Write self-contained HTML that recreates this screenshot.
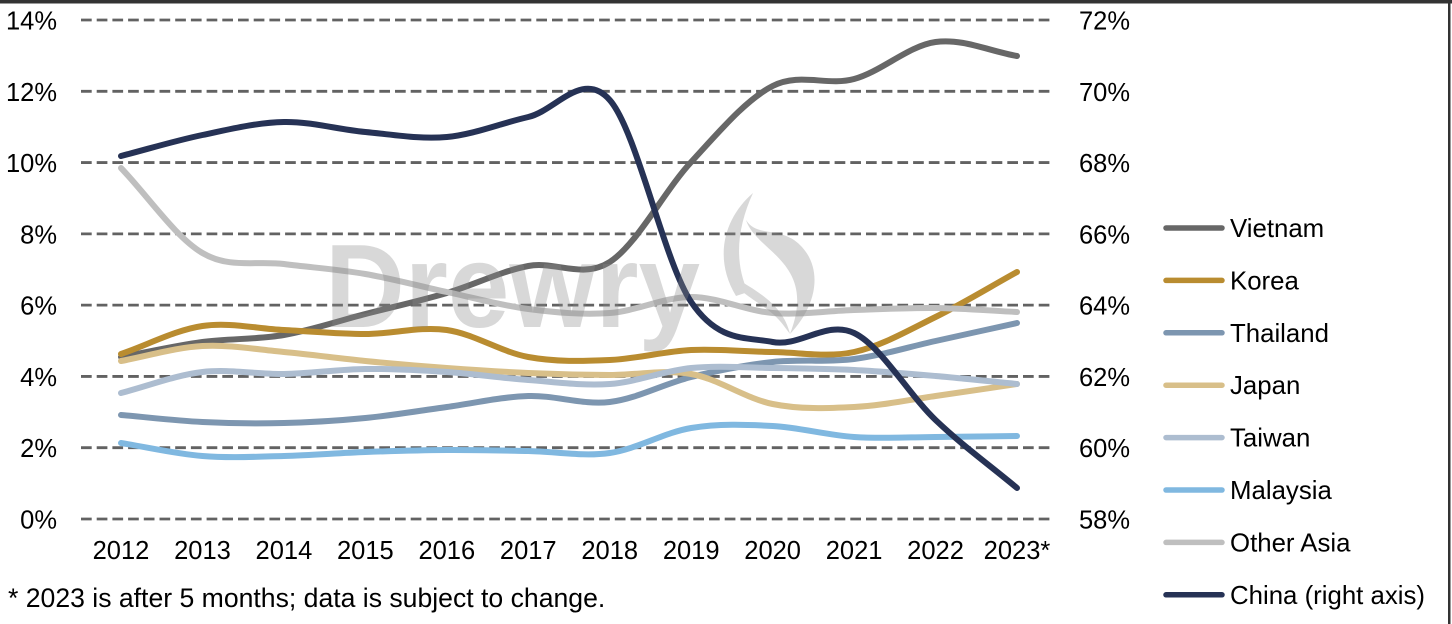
<!DOCTYPE html>
<html><head><meta charset="utf-8"><style>
html,body{margin:0;padding:0;background:#fff;}
svg{display:block;}
text{font-family:"Liberation Sans",Arial,sans-serif;fill:#000;}
</style></head><body>
<svg width="1452" height="624" viewBox="0 0 1452 624" xmlns="http://www.w3.org/2000/svg">
<rect x="0" y="0" width="1452" height="624" fill="#fff"/>
<rect x="0" y="0" width="1452" height="3.5" fill="#333"/>
<rect x="1448" y="0" width="2.5" height="624" fill="#333"/>

<g stroke="#626262" stroke-width="2.8" stroke-dasharray="10.7 5" fill="none">
<line x1="81" y1="20" x2="1053" y2="20"/>
<line x1="81" y1="91.29" x2="1053" y2="91.29"/>
<line x1="81" y1="162.57" x2="1053" y2="162.57"/>
<line x1="81" y1="233.86" x2="1053" y2="233.86"/>
<line x1="81" y1="305.14" x2="1053" y2="305.14"/>
<line x1="81" y1="376.43" x2="1053" y2="376.43"/>
<line x1="81" y1="447.71" x2="1053" y2="447.71"/>
<line x1="81" y1="519" x2="1053" y2="519"/>
</g>

<g font-size="25.5" text-anchor="end">
<text x="57" y="29.5">14%</text>
<text x="57" y="100.8">12%</text>
<text x="57" y="172">10%</text>
<text x="57" y="243.4">8%</text>
<text x="57" y="314.6">6%</text>
<text x="57" y="385.9">4%</text>
<text x="57" y="457.2">2%</text>
<text x="57" y="528.5">0%</text>
</g>
<g font-size="25.5" text-anchor="start">
<text x="1079" y="29.5">72%</text>
<text x="1079" y="100.8">70%</text>
<text x="1079" y="172">68%</text>
<text x="1079" y="243.4">66%</text>
<text x="1079" y="314.6">64%</text>
<text x="1079" y="385.9">62%</text>
<text x="1079" y="457.2">60%</text>
<text x="1079" y="528.5">58%</text>
</g>
<g font-size="25.5" text-anchor="middle">
<text x="121" y="559">2012</text>
<text x="202.45" y="559">2013</text>
<text x="283.91" y="559">2014</text>
<text x="365.36" y="559">2015</text>
<text x="446.82" y="559">2016</text>
<text x="528.27" y="559">2017</text>
<text x="609.73" y="559">2018</text>
<text x="691.18" y="559">2019</text>
<text x="772.64" y="559">2020</text>
<text x="854.09" y="559">2021</text>
<text x="935.55" y="559">2022</text>
<text x="1017" y="559">2023*</text>
</g>

<g fill="none" stroke-width="6" stroke-linecap="round" stroke-linejoin="round">
<!-- Vietnam -->
<path stroke="#676767" d="M121,357 C148.15,352 175.30,345.67 202.45,342 C229.60,338.33 256.76,339.67 283.91,335 C311.06,330.33 338.21,321 365.36,314 C392.51,307 419.67,301 446.82,293 C473.97,285 501.12,271.17 528.27,266 C555.42,260.83 582.58,279.33 609.73,262 C636.88,244.67 664.03,191.33 691.18,162 C718.33,132.67 745.49,99.83 772.64,86 C799.79,72.17 826.94,86.33 854.09,79 C881.24,71.67 908.40,45.83 935.55,42 C962.70,38.17 989.85,51.33 1017,56"/>
<!-- Korea -->
<path stroke="#b98c30" d="M121,354 C148.15,344.67 175.30,330 202.45,326 C229.60,322 256.76,328.67 283.91,330 C311.06,331.33 338.21,334 365.36,334 C392.51,334 419.67,326.17 446.82,330 C473.97,333.83 501.12,352 528.27,357 C555.42,362 582.58,361.17 609.73,360 C636.88,358.83 664.03,351.33 691.18,350 C718.33,348.67 745.49,351.67 772.64,352 C799.79,352.33 826.94,357.83 854.09,352 C881.24,346.17 908.40,330.33 935.55,317 C962.70,303.67 989.85,287 1017,272"/>
<!-- Thailand -->
<path stroke="#7d96b0" d="M121,415 C148.15,417.33 175.30,420.67 202.45,422 C229.60,423.33 256.76,423.67 283.91,423 C311.06,422.33 338.21,420.67 365.36,418 C392.51,415.33 419.67,410.67 446.82,407 C473.97,403.33 501.12,396.83 528.27,396 C555.42,395.17 582.58,405.17 609.73,402 C636.88,398.83 664.03,383.67 691.18,377 C718.33,370.33 745.49,365 772.64,362 C799.79,359 826.94,362.5 854.09,359 C881.24,355.5 908.40,347 935.55,341 C962.70,335 989.85,329 1017,323"/>
<!-- Japan -->
<path stroke="#d8bf89" d="M121,361 C148.15,356 175.30,347.5 202.45,346 C229.60,344.5 256.76,349.5 283.91,352 C311.06,354.5 338.21,358.33 365.36,361 C392.51,363.67 419.67,366 446.82,368 C473.97,370 501.12,371.83 528.27,373 C555.42,374.17 582.58,374.83 609.73,375 C636.88,375.17 664.03,369.17 691.18,374 C718.33,378.83 745.49,398.5 772.64,404 C799.79,409.5 826.94,408.33 854.09,407 C881.24,405.67 908.40,399.83 935.55,396 C962.70,392.17 989.85,388 1017,384"/>
<!-- Taiwan -->
<path stroke="#adbdd0" d="M121,393 C148.15,386 175.30,375.17 202.45,372 C229.60,368.83 256.76,374.5 283.91,374 C311.06,373.5 338.21,369.33 365.36,369 C392.51,368.67 419.67,370.17 446.82,372 C473.97,373.83 501.12,378 528.27,380 C555.42,382 582.58,386 609.73,384 C636.88,382 664.03,370.67 691.18,368 C718.33,365.33 745.49,367.67 772.64,368 C799.79,368.33 826.94,368.67 854.09,370 C881.24,371.33 908.40,373.67 935.55,376 C962.70,378.33 989.85,381.33 1017,384"/>
<!-- Malaysia -->
<path stroke="#80b8e0" d="M121,443 C148.15,447.33 175.30,453.83 202.45,456 C229.60,458.17 256.76,456.67 283.91,456 C311.06,455.33 338.21,453 365.36,452 C392.51,451 419.67,450.17 446.82,450 C473.97,449.83 501.12,450.5 528.27,451 C555.42,451.5 582.58,456.83 609.73,453 C636.88,449.17 664.03,432.5 691.18,428 C718.33,423.5 745.49,424.5 772.64,426 C799.79,427.5 826.94,435.17 854.09,437 C881.24,438.83 908.40,437.17 935.55,437 C962.70,436.83 989.85,436.33 1017,436"/>
<!-- Other Asia -->
<path stroke="#bfbfbf" d="M121,168 C148.15,196.33 175.30,237 202.45,253 C229.60,269 256.76,260.5 283.91,264 C311.06,267.5 338.21,269.33 365.36,274 C392.51,278.67 419.67,286.17 446.82,292 C473.97,297.83 501.12,305.5 528.27,309 C555.42,312.5 582.58,315 609.73,313 C636.88,311 664.03,297 691.18,297 C718.33,297 745.49,310.83 772.64,313 C799.79,315.17 826.94,310.83 854.09,310 C881.24,309.17 908.40,307.67 935.55,308 C962.70,308.33 989.85,310.67 1017,312"/>
<!-- China -->
<path stroke="#263255" d="M121,156 C148.15,149 175.30,140.67 202.45,135 C229.60,129.33 256.76,122.5 283.91,122 C311.06,121.5 338.21,129.5 365.36,132 C392.51,134.5 419.67,139.5 446.82,137 C473.97,134.5 501.12,123.17 528.27,117 C555.42,110.83 582.58,69.17 609.73,100 C636.88,130.83 664.03,261.67 691.18,302 C718.33,342.33 745.49,336.83 772.64,342 C799.79,347.17 826.94,320 854.09,333 C881.24,346 908.40,394.17 935.55,420 C962.70,445.83 989.85,465.33 1017,488"/>
</g>

<!-- watermark -->
<g fill="#8a8a8a" opacity="0.33">
<text x="325" y="327" font-size="119" font-weight="bold" textLength="375" lengthAdjust="spacingAndGlyphs" style="fill:#8a8a8a">Drewry</text>
<path d="M753,193 C726,216 712,256 736,296 L748,292 C734,262 737,228 753,193 Z"/>
<path d="M746,220 C756,252 818,262 790,334 C822,300 822,260 794,240 C775,228 756,236 746,220 Z"/>
<path d="M728,276 C742,298 768,304 784,326 L790,334 C784,308 762,294 742,282 Z"/>
</g>

<!-- legend -->
<g stroke-width="5.5" stroke-linecap="round">
<line x1="1166" y1="228" x2="1222" y2="228" stroke="#676767"/>
<line x1="1166" y1="280.4" x2="1222" y2="280.4" stroke="#b98c30"/>
<line x1="1166" y1="332.8" x2="1222" y2="332.8" stroke="#7d96b0"/>
<line x1="1166" y1="385.2" x2="1222" y2="385.2" stroke="#d8bf89"/>
<line x1="1166" y1="437.6" x2="1222" y2="437.6" stroke="#adbdd0"/>
<line x1="1166" y1="490" x2="1222" y2="490" stroke="#80b8e0"/>
<line x1="1166" y1="542.4" x2="1222" y2="542.4" stroke="#bfbfbf"/>
<line x1="1166" y1="594.8" x2="1222" y2="594.8" stroke="#263255"/>
</g>
<g font-size="25.8">
<text x="1230" y="237">Vietnam</text>
<text x="1230" y="289.4">Korea</text>
<text x="1230" y="341.8">Thailand</text>
<text x="1230" y="394.2">Japan</text>
<text x="1230" y="446.6">Taiwan</text>
<text x="1230" y="499">Malaysia</text>
<text x="1230" y="551.4">Other Asia</text>
<text x="1230" y="603.8">China (right axis)</text>
</g>

<text x="8" y="607" font-size="26.6">* 2023 is after 5 months; data is subject to change.</text>
</svg>
</body></html>
